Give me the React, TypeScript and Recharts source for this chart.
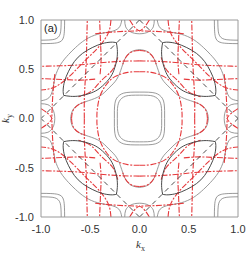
import React from 'react';
import { LineChart, Line, XAxis, YAxis, ReferenceLine } from 'recharts';

// Contour pieces (kx >= 0, ky >= 0).
// The figure is symmetric, so each piece is reflected into the other quadrants.
const squareOuter = [[0.255, 0], [0.255, 0.08], [0.25, 0.15], [0.235, 0.2], [0.205, 0.235], [0.16, 0.258], [0.09, 0.267], [0, 0.268]];
const squareInner = [[0.225, 0], [0.225, 0.07], [0.22, 0.13], [0.205, 0.175], [0.18, 0.205], [0.14, 0.227], [0.08, 0.236], [0, 0.237]];
const cornerOuter = [[0.76, 1], [0.762, 0.9], [0.77, 0.83], [0.79, 0.79], [0.83, 0.77], [0.9, 0.762], [1, 0.76]];
const cornerInner = [[0.795, 1], [0.797, 0.92], [0.805, 0.86], [0.825, 0.825], [0.86, 0.805], [0.92, 0.797], [1, 0.795]];
const lensUpper = [[0.235, 0.77], [0.29, 0.775], [0.38, 0.76], [0.48, 0.72], [0.58, 0.66], [0.66, 0.58], [0.72, 0.48], [0.76, 0.38], [0.775, 0.29], [0.77, 0.235]];
const lensLower = [[0.235, 0.77], [0.225, 0.7], [0.23, 0.6], [0.26, 0.49], [0.31, 0.4], [0.4, 0.31], [0.49, 0.26], [0.6, 0.23], [0.7, 0.225], [0.77, 0.235]];
const outerArc = [[0.18, 1], [0.21, 0.92], [0.3, 0.88], [0.425, 0.855], [0.55, 0.8], [0.65, 0.72], [0.72, 0.65], [0.8, 0.55], [0.855, 0.425], [0.88, 0.3], [0.92, 0.21], [1, 0.18]];
const starEdge = [[0, 0.7], [0.08, 0.68], [0.14, 0.62], [0.18, 0.52], [0.23, 0.4], [0.31, 0.31], [0.4, 0.23], [0.52, 0.18], [0.62, 0.14], [0.68, 0.08], [0.7, 0]];
const pocketTop = [[0.15, 1], [0.14, 0.93], [0.1, 0.885], [0.05, 0.865], [0, 0.86]];
const pocketSide = [[1, 0.15], [0.93, 0.14], [0.885, 0.1], [0.865, 0.05], [0.86, 0]];
const diamond = [[0, 1], [1, 0]];

const redLoop = [[0, 0.475], [0.12, 0.468], [0.25, 0.425], [0.34, 0.34], [0.4, 0.23], [0.425, 0.12], [0.432, 0.05], [0.432, 0]];
const redH1 = [[0.45, 0.4], [0.6, 0.39], [0.75, 0.395], [0.88, 0.4], [1, 0.405]];
const redV1 = [[0.4, 0.45], [0.39, 0.6], [0.395, 0.75], [0.4, 0.88], [0.405, 1]];
const redH2 = [[0, 0.585], [0.2, 0.58], [0.4, 0.565], [0.6, 0.545], [0.8, 0.535], [1, 0.53]];
const redV2 = [[0.56, 0], [0.56, 0.2], [0.55, 0.4], [0.54, 0.6], [0.535, 0.8], [0.53, 1]];
const redDiag = [[0.29, 1], [0.32, 0.86], [0.42, 0.72], [0.52, 0.62], [0.62, 0.52], [0.72, 0.42], [0.86, 0.32], [1, 0.29]];
const redInner = [[0.22, 0.62], [0.27, 0.5], [0.35, 0.42], [0.42, 0.35], [0.5, 0.27], [0.62, 0.22]];
const redStarTop = [[0, 0.69], [0.08, 0.675], [0.14, 0.62], [0.17, 0.55]];
const redStarSide = [[0.69, 0], [0.675, 0.08], [0.62, 0.14], [0.55, 0.17]];
const redVTop = [[0.1, 1], [0.06, 0.94], [0.02, 0.9], [0, 0.89]];
const redVSide = [[1, 0.1], [0.94, 0.06], [0.9, 0.02], [0.89, 0]];
const redEdgeTop = [[0.45, 0.86], [0.3, 0.875], [0.15, 0.885], [0, 0.89]];
const redEdgeSide = [[0.86, 0.45], [0.875, 0.3], [0.885, 0.15], [0.89, 0]];

const axisTicks = [-1, -0.5, 0, 0.5, 1];

const thinGray = { stroke: '#808080', strokeWidth: 0.8 };
const lensGray = { stroke: '#4a4a4a', strokeWidth: 1 };
const blackDash = { stroke: '#222', strokeWidth: 0.8, strokeDasharray: '5 4' };
const redDash = { stroke: '#e5383b', strokeWidth: 1.1, strokeDasharray: '6 1.5 2 1.5' };

const curves = [
  { pts: squareOuter, style: thinGray },
  { pts: squareInner, style: thinGray },
  { pts: cornerOuter, style: thinGray },
  { pts: cornerInner, style: thinGray },
  { pts: outerArc, style: thinGray },
  { pts: starEdge, style: thinGray },
  { pts: pocketTop, style: thinGray },
  { pts: pocketSide, style: thinGray },
  { pts: redLoop, style: redDash },
  { pts: redH1, style: redDash },
  { pts: redV1, style: redDash },
  { pts: redH2, style: redDash },
  { pts: redV2, style: redDash },
  { pts: redDiag, style: redDash },
  { pts: redInner, style: redDash },
  { pts: redStarTop, style: redDash },
  { pts: redStarSide, style: redDash },
  { pts: redVTop, style: redDash },
  { pts: redVSide, style: redDash },
  { pts: redEdgeTop, style: redDash },
  { pts: redEdgeSide, style: redDash },
  { pts: lensUpper, style: lensGray },
  { pts: lensLower, style: lensGray },
  { pts: diamond, style: blackDash },
];

const flips = [[1, 1], [-1, 1], [1, -1], [-1, -1]];

const series = curves.flatMap((c, i) =>
  flips.map(([sx, sy], j) => ({
    key: `c${i}-${j}`,
    style: c.style,
    data: c.pts.map(([x, y]) => ({ x: sx * x, y: sy * y })),
  }))
);

const tickStyle = { fontSize: 11, fill: '#333', fontFamily: 'Liberation Sans, Arial, sans-serif' };

export default function App() {
  return (
    <div style={{ position: 'absolute', left: 0, top: 0, width: 249, height: 254, background: '#fff' }}>
      <LineChart width={249} height={254} margin={{ top: 20, right: 11, left: 0, bottom: 0 }}>
        <XAxis
          type="number"
          dataKey="x"
          domain={[-1, 1]}
          ticks={axisTicks}
          allowDataOverflow
          tickFormatter={(v) => v.toFixed(1)}
          tick={tickStyle}
          tickLine={false}
          tickSize={6}
          tickMargin={2}
          height={37}
          stroke="#9a9a9a"
          label={{
            content: () => (
              <text x={136} y={248} fontFamily="Liberation Serif, serif" fontSize={11} fill="#333">
                <tspan fontStyle="italic">k</tspan>
                <tspan fontSize={8} dy={3}>x</tspan>
              </text>
            ),
          }}
        />
        <YAxis
          type="number"
          dataKey="y"
          domain={[-1, 1]}
          ticks={axisTicks}
          allowDataOverflow
          tickFormatter={(v) => v.toFixed(1)}
          tick={tickStyle}
          tickLine={false}
          tickSize={6}
          tickMargin={1}
          width={41}
          stroke="#9a9a9a"
          label={{
            content: () => (
              <text x={9} y={123} transform="rotate(-90 9 123)" fontFamily="Liberation Serif, serif" fontSize={11} fill="#333">
                <tspan fontStyle="italic">k</tspan>
                <tspan fontSize={8} dy={3}>y</tspan>
              </text>
            ),
          }}
        />
        <ReferenceLine x={1} stroke="#9a9a9a" />
        <ReferenceLine y={1} stroke="#9a9a9a" />
        {series.map((s) => (
          <Line
            key={s.key}
            data={s.data}
            dataKey="y"
            type="natural"
            dot={false}
            activeDot={false}
            isAnimationActive={false}
            {...s.style}
          />
        ))}
        <text x={44} y={32} fontSize={11} fill="#222" fontFamily="Liberation Sans, Arial, sans-serif">(a)</text>
      </LineChart>
    </div>
  );
}
